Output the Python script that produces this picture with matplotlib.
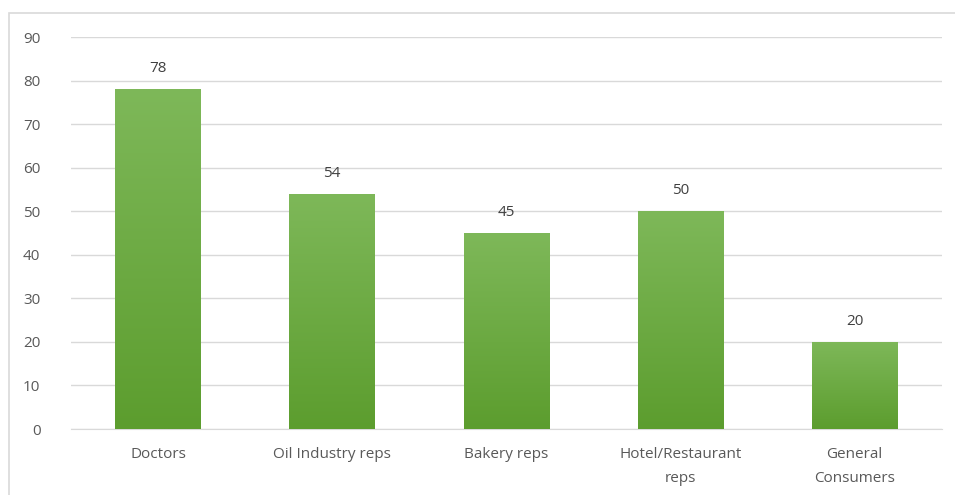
import numpy as np
import matplotlib.pyplot as plt
from matplotlib.colors import LinearSegmentedColormap
from matplotlib.patches import Rectangle

categories = ['Doctors', 'Oil Industry reps', 'Bakery reps', 'Hotel/Restaurant\nreps', 'General\nConsumers']
values = [78, 54, 45, 50, 20]
yticks = [0, 10, 20, 30, 40, 50, 60, 70, 80, 90]

plt.rcParams['font.family'] = ['Open Sans', 'DejaVu Sans']

fig = plt.figure(figsize=(9.55, 4.95), dpi=100)
ax = fig.add_axes([0.0743, 0.1333, 0.9117, 0.7917])

# light border around the chart area (top and left visible)
fig.patches.append(Rectangle((9 / 955, -0.05), 1.2, 1 - 13 / 495 + 0.05, transform=fig.transFigure,
                             fill=False, edgecolor='#d9d9d9', linewidth=1.2))

x = np.arange(len(categories))
bars = ax.bar(x, values, width=0.49, color='#6aaa3f', zorder=2)

# vertical gradient fill: lighter at top, darker at bottom
cmap = LinearSegmentedColormap.from_list('g', ['#5c9d2e', '#7eb859'])
grad = np.linspace(0, 1, 256).reshape(-1, 1)
for b in bars:
    x0, w, h = b.get_x(), b.get_width(), b.get_height()
    im = ax.imshow(grad, cmap=cmap, origin='lower', aspect='auto',
                   extent=[x0, x0 + w, 0, h], zorder=3)
    im.set_clip_path(b)

for xi, v in zip(x, values):
    ax.text(xi, v + 3.0, str(v), ha='center', va='bottom', fontsize=11, color='#404040')

ax.set_xlim(-0.5, len(categories) - 0.5)
ax.set_ylim(0, 90)
ax.set_yticks(yticks)
ax.set_xticks(x)
ax.set_xticklabels(categories, fontsize=11, color='#595959', linespacing=1.8)
ax.tick_params(axis='y', labelsize=11, labelcolor='#595959', length=0, pad=22)
ax.tick_params(axis='x', length=0, pad=13)
ax.grid(axis='y', color='#d9d9d9', linewidth=1, zorder=0)
ax.set_axisbelow(True)
for s in ['top', 'right', 'left']:
    ax.spines[s].set_visible(False)
ax.spines['bottom'].set_color('#d9d9d9')

fig.savefig('out.png', dpi=100)
